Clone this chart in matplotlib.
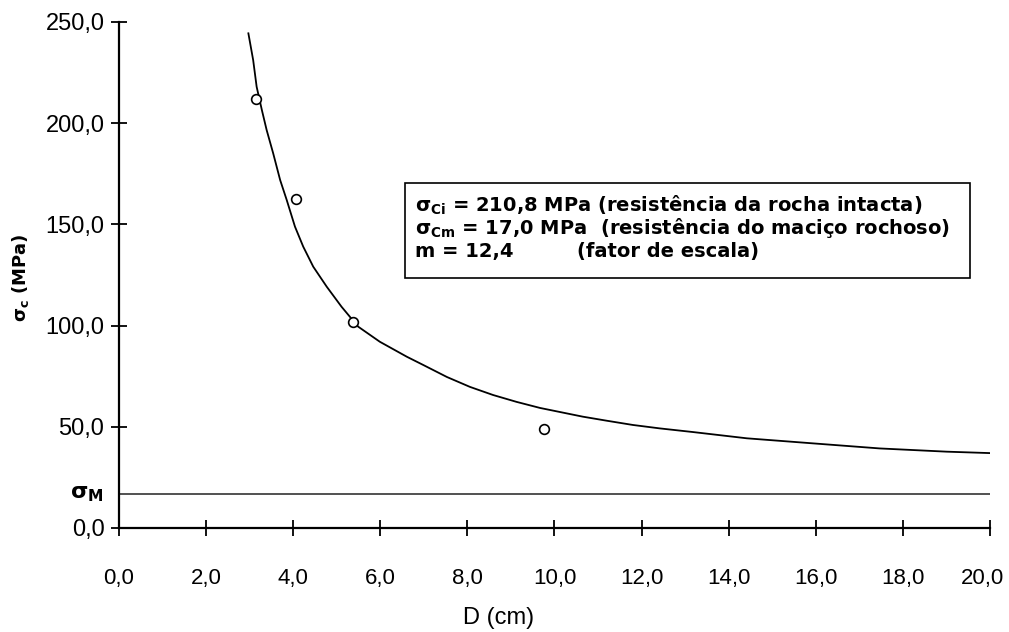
import matplotlib
matplotlib.use("Agg")
import matplotlib.pyplot as plt
from matplotlib.patches import Rectangle
from matplotlib.transforms import ScaledTranslation

# fonte das escalas
tickfont = ['Liberation Sans', 'DejaVu Sans']
plt.rcParams['mathtext.fontset'] = 'custom'
plt.rcParams['mathtext.rm'] = 'DejaVu Sans:bold'
plt.rcParams['mathtext.it'] = 'DejaVu Sans:bold'
plt.rcParams['mathtext.bf'] = 'DejaVu Sans:bold'

# curva ajustada
curve_d = [2.97, 3.08, 3.16, 3.28, 3.39, 3.54, 3.70, 3.85, 4.04, 4.23, 4.46,
           4.77, 5.11, 5.49, 5.99, 6.61, 6.99, 7.53, 8.06, 8.59, 9.13, 9.67,
           10.65, 11.20, 11.80, 12.42, 13.18, 14.42, 15.94, 17.47, 19.01, 20.0]
curve_s = [244.4, 231.2, 218.0, 206.5, 196.6, 185.1, 171.9, 162.1, 148.9, 139.0, 129.1,
           119.2, 109.3, 99.5, 92.0, 84.6, 80.5, 74.6, 69.7, 65.7, 62.3, 59.3,
           55.0, 53.0, 50.9, 49.2, 47.4, 44.3, 41.8, 39.3, 37.7, 37.0]

# ensaios
pts_d = [3.14, 4.06, 5.37, 9.76]
pts_s = [212.0, 162.5, 101.8, 48.9]

sigma_m = 17.0
xticks = [0, 2, 4, 6, 8, 10, 12, 14, 16, 18, 20]
yticks = [0, 50, 100, 150, 200, 250]
box_lines = [r"$\sigma_{Ci}$ = 210,8 MPa (resistência da rocha intacta)",
             r"$\sigma_{Cm}$ = 17,0 MPa  (resistência do maciço rochoso)",
             "m = 12,4"]
box_extra = "(fator de escala)"

fig = plt.figure(figsize=(10.09, 6.32), dpi=100)
ax = fig.add_axes([0.118, 0.1646, 0.863, 0.8006])

ax.plot(curve_d, curve_s, color='black', lw=1.3)
ax.plot(pts_d, pts_s, 'o', mfc='white', mec='black', ms=7, mew=1.2)
ax.plot([0, 20], [sigma_m, sigma_m], color='#222222', lw=1.1)

ax.set_xlim(0, 20)
ax.set_ylim(0, 250)
for s in ['top', 'right']:
    ax.spines[s].set_visible(False)
for s in ['left', 'bottom']:
    ax.spines[s].set_linewidth(1.6)

ax.set_xticks(xticks)
ax.set_yticks(yticks)
ax.set_xticklabels([('%.1f' % v).replace('.', ',') for v in xticks], family=tickfont, fontsize=16)
ax.set_yticklabels([('%.1f' % v).replace('.', ',') for v in yticks], family=tickfont, fontsize=17)
ax.tick_params(axis='x', direction='inout', length=11, width=1.3, pad=23)
ax.tick_params(axis='y', direction='inout', length=11, width=1.3, pad=5)
# o ultimo rotulo encosta na borda
last = ax.get_xticklabels()[-1]
last.set_transform(last.get_transform() + ScaledTranslation(-5 / 72, 0, fig.dpi_scale_trans))

ax.text(-0.35, sigma_m, r"$\sigma_M$", ha='right', va='center', fontsize=16)

fig.text(0.02, 0.56, r"$\sigma_c$ (MPa)", rotation=90, ha='center', va='center',
         fontsize=13, fontweight='bold')
fig.text(0.494, 0.022, "D (cm)", ha='center', va='center', family=tickfont, fontsize=17)

ax.add_patch(Rectangle((0.3284, 0.494), 0.6486, 0.188, transform=ax.transAxes,
                       fill=False, ec='black', lw=1.2, clip_on=False))
line_y = [0.638, 0.593, 0.547]
for line, yy in zip(box_lines, line_y):
    ax.text(0.340, yy, line, transform=ax.transAxes,
            ha='left', va='center', fontsize=14, fontweight='bold')
ax.text(0.526, line_y[2], box_extra, transform=ax.transAxes,
        ha='left', va='center', fontsize=14, fontweight='bold')

fig.savefig("out.png", dpi=100)
